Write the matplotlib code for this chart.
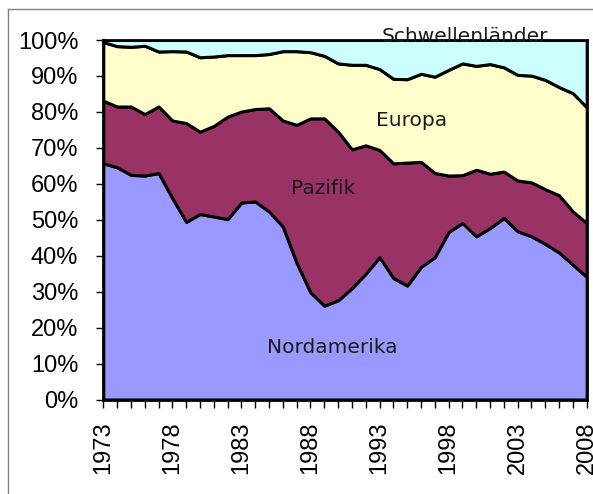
import numpy as np
import matplotlib
matplotlib.use("Agg")
import matplotlib.pyplot as plt
from matplotlib.lines import Line2D
from matplotlib.ticker import MultipleLocator, FuncFormatter

years = list(range(1973, 2009))

# shares in percent
nordamerika = [65.7, 64.6, 62.5, 62.3, 63.0, 56.0, 49.4, 51.6, 50.9, 50.2, 54.8, 55.1,
               52.3, 48.1, 38.0, 29.8, 26.1, 27.6, 31.0, 35.0, 39.6, 33.8, 31.7, 36.9,
               39.6, 46.6, 49.1, 45.4, 47.7, 50.5, 46.8, 45.4, 43.3, 40.9, 37.5, 34.1]
pazifik = [17.4, 16.9, 19.0, 17.1, 18.5, 21.6, 27.5, 22.9, 25.2, 28.5, 25.3, 25.7,
           28.7, 29.5, 38.4, 48.4, 52.1, 46.9, 38.6, 35.7, 29.8, 31.9, 34.2, 29.2,
           23.4, 15.7, 13.3, 18.5, 15.1, 12.9, 14.1, 15.0, 15.2, 15.9, 14.8, 15.0]
europa = [16.3, 16.8, 16.6, 19.0, 15.3, 19.3, 19.9, 20.7, 19.3, 17.1, 15.7, 15.0,
          15.1, 19.3, 20.5, 18.4, 17.4, 19.0, 23.5, 22.4, 22.5, 23.5, 23.2, 24.5,
          26.8, 29.4, 31.1, 28.9, 30.5, 29.0, 29.4, 29.7, 30.4, 30.1, 32.9, 32.2]
schwellen = [100 - a - b - c for a, b, c in zip(nordamerika, pazifik, europa)]

labels = ["Nordamerika", "Pazifik", "Europa", "Schwellenländer"]
colors = ["#9999FF", "#993366", "#FFFFCC", "#CCFFFF"]

plt.rcParams["font.family"] = ["Liberation Sans", "DejaVu Sans"]

fig = plt.figure(figsize=(5.93, 4.94), dpi=100)
# thin grey frame of the chart area (left and top edge only visible)
fx = 7.5 / 593
fy = 1 - 9.5 / 494
fig.add_artist(Line2D([fx, fx], [0, fy], transform=fig.transFigure, color="#808080", lw=1.0))
fig.add_artist(Line2D([fx, 1], [fy, fy], transform=fig.transFigure, color="#808080", lw=1.0))

ax = fig.add_axes([103.3 / 593, 1 - 399.5 / 494, 483.4 / 593, 359.5 / 494])

ax.stackplot(years, nordamerika, pazifik, europa, schwellen, colors=colors,
             edgecolor="black", linewidth=2.2)

ax.set_xlim(1973, 2008)
ax.set_ylim(0, 100)
ax.yaxis.set_major_locator(MultipleLocator(10))
ax.yaxis.set_major_formatter(FuncFormatter(lambda v, p: "%d%%" % v))
ax.set_xticks(list(range(1973, 2009, 5)))
ax.xaxis.set_minor_locator(MultipleLocator(1))
ax.tick_params(axis="x", which="both", direction="out", length=5.5, width=1, rotation=90,
               labelsize=17, pad=10)
ax.tick_params(axis="y", direction="out", length=5, width=1, labelsize=17, pad=13)
for sp in ax.spines.values():
    sp.set_linewidth(2)

txt = dict(fontsize=14.5, ha="center", va="center", color="#1a1a1a", family="DejaVu Sans")
ax.text(1999.2, 101.1, "Schwellenländer", clip_on=False, **txt)
ax.text(1995.35, 77.5, "Europa", **txt)
ax.text(1988.9, 58.8, "Pazifik", **txt)
ax.text(1989.6, 14.6, "Nordamerika", **txt)

fig.savefig("out.png", dpi=100)
